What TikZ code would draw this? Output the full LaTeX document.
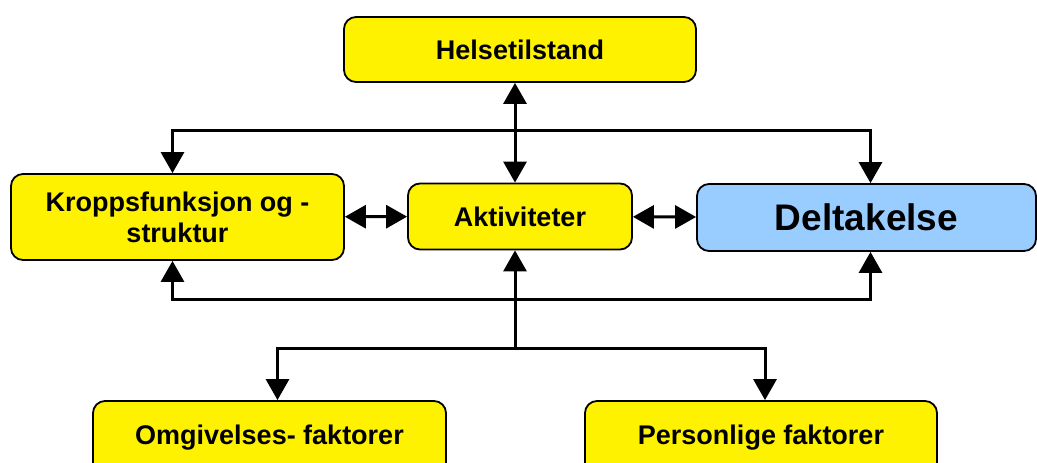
\documentclass[tikz,border=0pt]{standalone}
\usepackage{fontspec}
\setmainfont{Liberation Sans}
\usetikzlibrary{arrows.meta}

\tikzset{
  box/.style={draw=black, line width=1.8pt, rounded corners=12pt, fill=yellow,
    inner sep=0pt, align=center, font=\bfseries\fontsize{27}{31}\selectfont},
  arr/.style={line width=3pt, -{Triangle[length=21pt,width=23pt]}},
  dblarr/.style={line width=3pt, {Triangle[length=21pt,width=23pt]}-{Triangle[length=21pt,width=23pt]}}
}

\begin{document}
\begin{tikzpicture}[x=1pt,y=-1pt]
            \useasboundingbox (0,0) rectangle (1037,463);
            \clip (0,0) rectangle (1037,463);
            % Boxes
            \node[box, minimum width=352, minimum height=65] (helse) at (520,49.5) {Helsetilstand};
            \node[box, minimum width=333, minimum height=86] (kropp) at (177.5,217) {Kroppsfunksjon og -\\struktur};
            \node[box, minimum width=224, minimum height=66] (akt) at (520,216.5) {Aktiviteter};
            \node[box, fill={rgb,255:red,153;green,204;blue,255}, minimum width=339, minimum height=67,
                  font=\bfseries\fontsize{37}{40}\selectfont] (delta) at (866.5,217.5) {Deltakelse};
            \node[box, minimum width=353, minimum height=74] (omg) at (269.5,438) {Omgivelses- faktorer};
            \node[box, minimum width=352, minimum height=74] (pers) at (761,438) {Personlige faktorer};
            % Junction points
            \coordinate (mid) at (515,130);
            \coordinate (low) at (515,299);
            \coordinate (fork) at (515,348);
            % Two-way links
            \draw[dblarr] (helse.south -| mid) -- (akt.north -| mid);
            \draw[dblarr] (kropp) -- (akt);
            \draw[dblarr] (akt) -- (delta);
            % Upper and lower loops
            \draw[arr] (mid) -| ([xshift=-5]kropp.north);
            \draw[arr] (mid) -| ([xshift=4]delta.north);
            \draw[arr] (low) -| ([xshift=-5]kropp.south);
            \draw[arr] (low) -| ([xshift=4]delta.south);
            % Context factors
            \draw[arr] (fork) -- (akt.south -| fork);
            \draw[arr] (fork) -| ([xshift=8]omg.north);
            \draw[arr] (fork) -| ([xshift=4]pers.north);
        \end{tikzpicture}
\end{document}
